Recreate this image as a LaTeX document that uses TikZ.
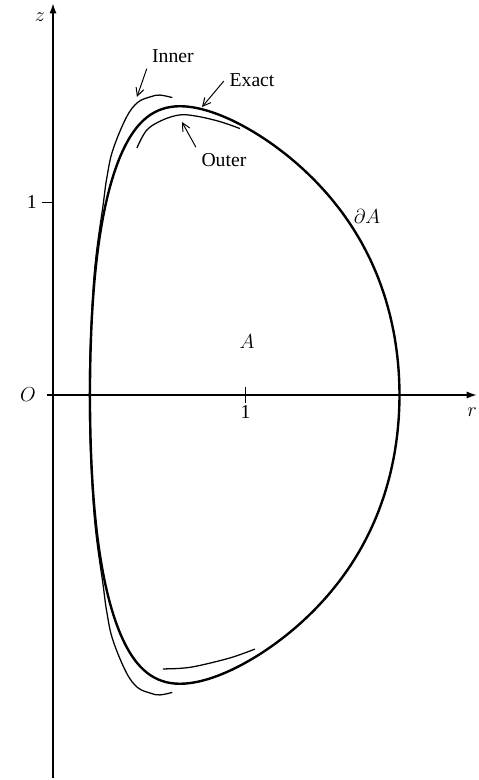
\documentclass[tikz,border=0pt]{standalone}
\usepackage{fontspec}
\setmainfont{Liberation Serif}
\usetikzlibrary{arrows.meta}
\tikzset{
  axis/.style={line width=1.3pt, -{Latex[length=2.6mm,width=1.8mm]}},
  exact/.style={line width=1.7pt},
  approx/.style={line width=0.9pt},
  pointer/.style={line width=0.7pt, -{Straight Barb[length=2mm,width=2mm]}, shorten <=1pt},
}
\begin{document}
\begin{tikzpicture}[x=4.8125cm, y=4.8125cm, font=\fontsize{14}{16}\selectfont]
  \useasboundingbox (-0.2753,-2.0) rectangle (2.2078,2.0519);
  % axes
  \draw[axis] (0,-1.99) -- (0,2.036);
  \draw[axis] (-0.03,0) -- (2.203,0);
  \node (zlab) at (-0.068,1.964) {$z$};
  \node (rlab) at (2.177,-0.088) {$r$};
  \node (olab) at (-0.13,0) {$O$};
  \draw[line width=1pt] (-0.055,1) -- (0,1);
  \node (zone) at (-0.11,1) {1};
  \draw[line width=1pt] (1,-0.04) -- (1,0.04);
  \node (rone) at (1,-0.09) {1};
  % exact boundary
  \draw[exact] plot[smooth cycle, domain=0:356, samples=90, variable=\t]
    ({0.996+0.804*cos(\t+24.7*sin(\t))+0.025*(1+cos(\t))*(sin(2*\t))^2},
     {1.5*sin(\t)});
  % inner approximation
  \draw[approx] plot[smooth, tension=0.6] coordinates {
    (0.62,1.545) (0.556,1.558) (0.51,1.55) (0.44,1.52) (0.38,1.44)
    (0.31,1.27) (0.28,1.13) (0.262,1.0) (0.212,0.6) (0.189,0)
    (0.212,-0.6) (0.262,-1.0) (0.28,-1.13) (0.31,-1.27) (0.38,-1.44)
    (0.44,-1.52) (0.51,-1.55) (0.556,-1.558) (0.62,-1.545)};
  % outer approximation
  \draw[approx] plot[smooth, tension=0.6] coordinates {
    (0.436,1.283) (0.488,1.377) (0.571,1.429) (0.66,1.455) (0.748,1.448)
    (0.868,1.420) (0.971,1.384)};
  \draw[approx] plot[smooth, tension=0.6] coordinates {
    (0.571,-1.423) (0.66,-1.420) (0.748,-1.408) (0.919,-1.366) (1.049,-1.32)};
  % labels
  \node (area) at (1.008,0.28) {$A$};
  \node (bdry) at (1.631,0.925) {$\partial A$};
  \node (inner) at (0.623,1.761) {Inner};
  \node (exactlab) at (1.034,1.636) {Exact};
  \node (outer) at (0.888,1.221) {Outer};
  \coordinate (innertip) at (0.436,1.548);
  \coordinate (exacttip) at (0.774,1.496);
  \coordinate (outertip) at (0.67,1.418);
  \draw[pointer] (inner.south west) -- (innertip);
  \draw[pointer] (exactlab.west) -- (exacttip);
  \draw[pointer] (outer.north west) -- (outertip);
\end{tikzpicture}
\end{document}
